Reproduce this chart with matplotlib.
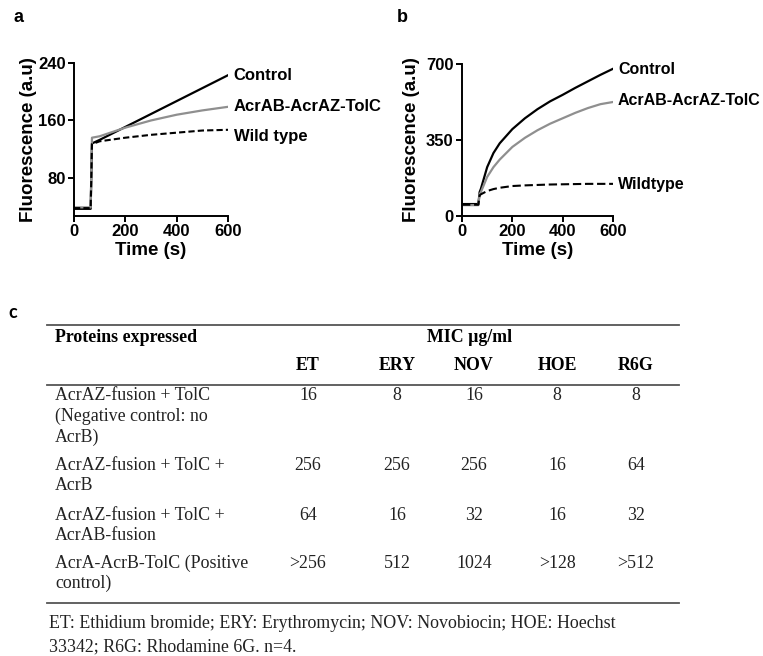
import matplotlib
matplotlib.use("Agg")
import matplotlib.pyplot as plt
from matplotlib.lines import Line2D

plt.rcParams["font.family"] = ["Liberation Sans", "DejaVu Sans"]

# ---- panel a: fluorescence traces ----
t_a = [0, 30, 65, 70, 100, 200, 300, 400, 500, 600]
ctrl_a = [37, 37, 37, 128, 133, 151, 169, 187, 205, 223]
fus_a = [39, 39, 39, 136, 138, 150, 160, 168, 174, 179]
wt_a = [38, 38, 38, 127, 131, 136, 140, 143, 146, 147]

# ---- panel b ----
t_b = [0, 30, 65, 70, 75, 100, 125, 150, 200, 250, 300, 350, 400, 450, 500, 550, 600]
ctrl_b = [55, 55, 55, 110, 125, 225, 290, 335, 400, 450, 492, 528, 558, 590, 620, 650, 678]
fus_b = [50, 50, 50, 100, 110, 180, 225, 260, 318, 360, 395, 425, 450, 475, 497, 515, 525]
wt_b = [52, 52, 52, 95, 100, 115, 124, 130, 138, 141, 143, 145, 146, 147, 148, 148, 148]

series_names_a = ["Control", "AcrAB-AcrAZ-TolC", "Wild type"]
series_names_b = ["Control", "AcrAB-AcrAZ-TolC", "Wildtype"]

# ---- panel c: MIC table ----
drugs = ["ET", "ERY", "NOV", "HOE", "R6G"]
proteins = [
    ["AcrAZ-fusion + TolC", "(Negative control: no", "AcrB)"],
    ["AcrAZ-fusion + TolC +", "AcrB"],
    ["AcrAZ-fusion + TolC +", "AcrAB-fusion"],
    ["AcrA-AcrB-TolC (Positive", "control)"],
]
mic = [
    ["16", "8", "16", "8", "8"],
    ["256", "256", "256", "16", "64"],
    ["64", "16", "32", "16", "32"],
    [">256", "512", "1024", ">128", ">512"],
]
footnote = ["ET: Ethidium bromide; ERY: Erythromycin; NOV: Novobiocin; HOE: Hoechst",
            "33342; R6G: Rhodamine 6G. n=4."]

W, H = 763, 656
GRAY = "#8f8f8f"


def rect(x0, y0, x1, y1):
    return [x0 / W, 1 - y1 / H, (x1 - x0) / W, (y1 - y0) / H]


def style_axes(ax, ylabelpad):
    for s in ("top", "right"):
        ax.spines[s].set_visible(False)
    for s in ("left", "bottom"):
        ax.spines[s].set_linewidth(1.4)
    ax.tick_params(direction="out", length=4, width=1.4, labelsize=12, pad=2)
    for lab in ax.get_xticklabels() + ax.get_yticklabels():
        lab.set_fontweight("bold")
    ax.set_xlabel("Time (s)", fontsize=13.5, fontweight="bold", labelpad=2)
    ax.set_ylabel("Fluorescence (a.u)", fontsize=13.5, fontweight="bold", labelpad=ylabelpad)


fig = plt.figure(figsize=(W / 100, H / 100), dpi=100)

# panel a
ax_a = fig.add_axes(rect(74, 63, 228, 216))
ax_a.plot(t_a, ctrl_a, color="black", lw=1.6)
ax_a.plot(t_a, fus_a, color=GRAY, lw=1.6)
ax_a.plot(t_a, wt_a, color="black", lw=1.5, dashes=(3, 1.5))
ax_a.set_xlim(0, 600)
ax_a.set_ylim(27, 240)
ax_a.set_xticks([0, 200, 400, 600])
ax_a.set_yticks([80, 160, 240])
style_axes(ax_a, 1)
for name, yv in zip(series_names_a, [223, 179, 137]):
    ax_a.text(622, yv, name, fontsize=12, fontweight="bold", va="center", ha="left", clip_on=False)

# panel b
ax_b = fig.add_axes(rect(462, 64, 613, 216))
ax_b.plot(t_b, ctrl_b, color="black", lw=1.6)
ax_b.plot(t_b, fus_b, color=GRAY, lw=1.6)
ax_b.plot(t_b, wt_b, color="black", lw=1.5, dashes=(4, 1.8))
ax_b.set_xlim(0, 600)
ax_b.set_ylim(0, 700)
ax_b.set_xticks([0, 200, 400, 600])
ax_b.set_yticks([0, 350, 700])
style_axes(ax_b, 4)
for name, yv in zip(series_names_b, [673, 530, 147]):
    ax_b.text(620, yv, name, fontsize=11.5, fontweight="bold", va="center", ha="left", clip_on=False)

# overlay in pixel coordinates for panel letters and the table
ov = fig.add_axes([0, 0, 1, 1], zorder=-1)
ov.set_xlim(0, W)
ov.set_ylim(H, 0)
ov.axis("off")

ov.text(18, 18, "a", fontsize=13, fontweight="bold", ha="center", va="center")
ov.text(402, 18, "b", fontsize=13, fontweight="bold", ha="center", va="center")
ov.text(13, 313, "c", fontsize=13, fontweight="bold", ha="center", va="center",
        family=["Lato", "DejaVu Sans"])

serif = ["Liberation Serif", "DejaVu Serif"]
fs = 12.9
col_x = [308, 397, 474, 557, 636]
row_y = [396, 465, 515, 563]
line_h = 20.5

for y in (325, 385, 603):
    ov.add_line(Line2D([47, 679], [y, y], color="#555555", lw=1.3))

ov.text(55, 337, "Proteins expressed", family=serif, fontsize=fs, fontweight="bold", va="center")
ov.text(470, 337, "MIC µg/ml", family=serif, fontsize=fs, fontweight="bold", va="center", ha="center")
for x, d in zip(col_x, drugs):
    ov.text(x, 366, d, family=serif, fontsize=fs, fontweight="bold", va="center", ha="center")

for y0, lines, vals in zip(row_y, proteins, mic):
    for i, ln in enumerate(lines):
        ov.text(55, y0 + i * line_h, ln, family=serif, fontsize=fs, va="center", color="#222222")
    for x, v in zip(col_x, vals):
        ov.text(x, y0, v, family=serif, fontsize=fs, va="center", ha="center", color="#222222")

for i, ln in enumerate(footnote):
    ov.text(49, 623 + i * 24, ln, family=serif, fontsize=fs, va="center", color="#222222")

fig.savefig("out.png", dpi=100)
